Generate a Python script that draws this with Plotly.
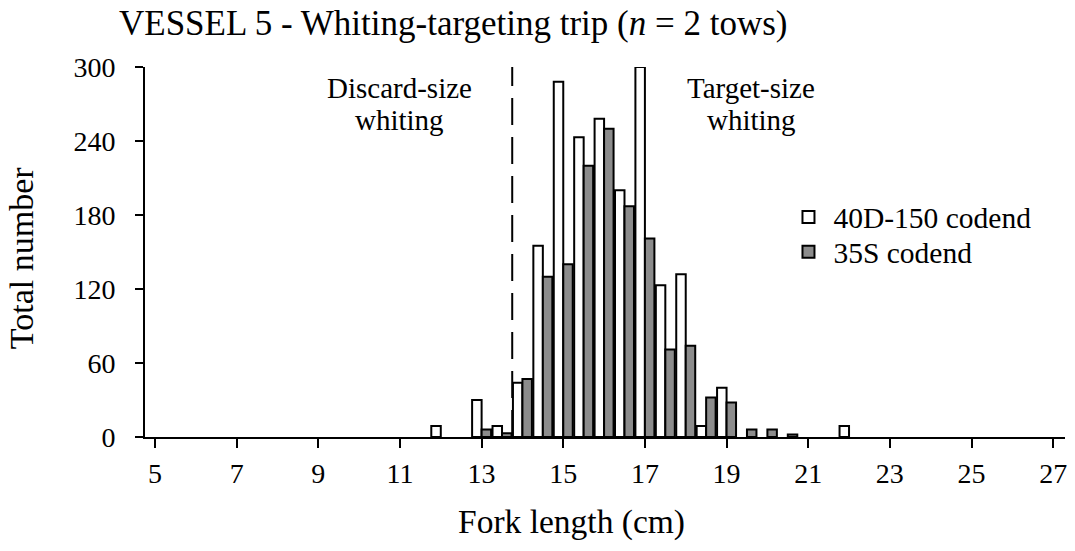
import plotly.graph_objects as go

# Data: fork-length bins (cm) and counts
bins = [12, 13, 13.5, 14, 14.5, 15, 15.5, 16, 16.5, 17, 17.5, 18, 18.5, 19, 19.5, 20, 20.5, 22]
codend_40d150 = [9, 30, 9, 44, 155, 288, 243, 258, 200, 300, 123, 132, 9, 40, None, None, None, 9]
codend_35s = [None, 6, 3, 47, 130, 140, 220, 250, 187, 161, 71, 74, 32, 28, 6, 6, 2, None]
series_names = ["40D-150 codend", "35S codend"]
x_ticks = [5, 7, 9, 11, 13, 15, 17, 19, 21, 23, 25, 27]
y_ticks = [0, 60, 120, 180, 240, 300]
discard_limit = 13.75

FONT = "Liberation Serif"
WHITE = "#ffffff"
GRAY = "#8c8c8c"

fig = go.Figure()
fig.add_trace(go.Bar(x=bins, y=codend_40d150, name=series_names[0], showlegend=False,
                     marker=dict(color=WHITE, line=dict(color="black", width=2))))
fig.add_trace(go.Bar(x=bins, y=codend_35s, name=series_names[1], showlegend=False,
                     marker=dict(color=GRAY, line=dict(color="black", width=2))))
# legend entries with larger square symbols, one legend per row for exact spacing
for nm, col, lg in zip(series_names, [WHITE, GRAY], ["legend", "legend2"]):
    fig.add_trace(go.Scatter(x=[None], y=[None], mode="markers", name=nm, legend=lg,
                             marker=dict(symbol="square", size=17, color=col,
                                         line=dict(color="black", width=2))))

fig.add_shape(type="line", x0=discard_limit, x1=discard_limit, y0=0, y1=300,
              xref="x", yref="y", line=dict(color="black", width=2, dash="27px,12px"))

ann_font = dict(family=FONT, size=29, color="black")
fig.add_annotation(x=11, y=283, text="Discard-size", showarrow=False,
                   font=ann_font, xanchor="center", yanchor="middle")
fig.add_annotation(x=11, y=257, text="whiting", showarrow=False,
                   font=ann_font, xanchor="center", yanchor="middle")
fig.add_annotation(x=19.6, y=283, text="Target-size", showarrow=False,
                   font=ann_font, xanchor="center", yanchor="middle")
fig.add_annotation(x=19.6, y=257, text="whiting", showarrow=False,
                   font=ann_font, xanchor="center", yanchor="middle")

# axis titles
fig.add_annotation(xref="paper", yref="paper", x=-0.1334, y=0.484, text="Total number",
                   textangle=-90, showarrow=False, xanchor="center", yanchor="middle",
                   font=dict(family=FONT, size=34, color="black"))
fig.add_annotation(xref="paper", yref="paper", x=0.464, y=-0.231, text="Fork length (cm)",
                   showarrow=False, xanchor="center", yanchor="middle",
                   font=dict(family=FONT, size=33.5, color="black"))

leg_common = dict(xanchor="left", yanchor="middle", itemwidth=40,
                  font=dict(family=FONT, size=29.5, color="black"),
                  bgcolor="rgba(0,0,0,0)", itemsizing="constant")

fig.update_layout(
    width=1075, height=551,
    margin=dict(l=145, r=8, t=67, b=114),
    paper_bgcolor="white", plot_bgcolor="white",
    barmode="group", bargap=0.07, bargroupgap=0,
    font=dict(family=FONT, size=28, color="black"),
    title=dict(text="VESSEL 5 - Whiting-targeting trip (<i>n</i> = 2 tows)",
               xref="container", yref="container", x=0.1107, y=0.958,
               xanchor="left", yanchor="middle",
               font=dict(family=FONT, size=35, color="black")),
    legend=dict(x=0.694, y=0.594, **leg_common),
    legend2=dict(x=0.694, y=0.5, **leg_common),
    xaxis=dict(range=[4.755, 27.29], tickvals=x_ticks, ticktext=[str(v) for v in x_ticks],
               showline=True, linecolor="black", linewidth=2, ticks="outside",
               ticklen=9, tickwidth=2, tickcolor="black", showgrid=False, zeroline=False,
               ticklabelstandoff=1),
    yaxis=dict(range=[0, 300], tickvals=y_ticks, showline=True, linecolor="black",
               linewidth=2, ticks="outside", ticklen=8, tickwidth=2, tickcolor="black",
               showgrid=False, zeroline=False, ticklabelstandoff=14),
)

fig.write_html("out.html")
